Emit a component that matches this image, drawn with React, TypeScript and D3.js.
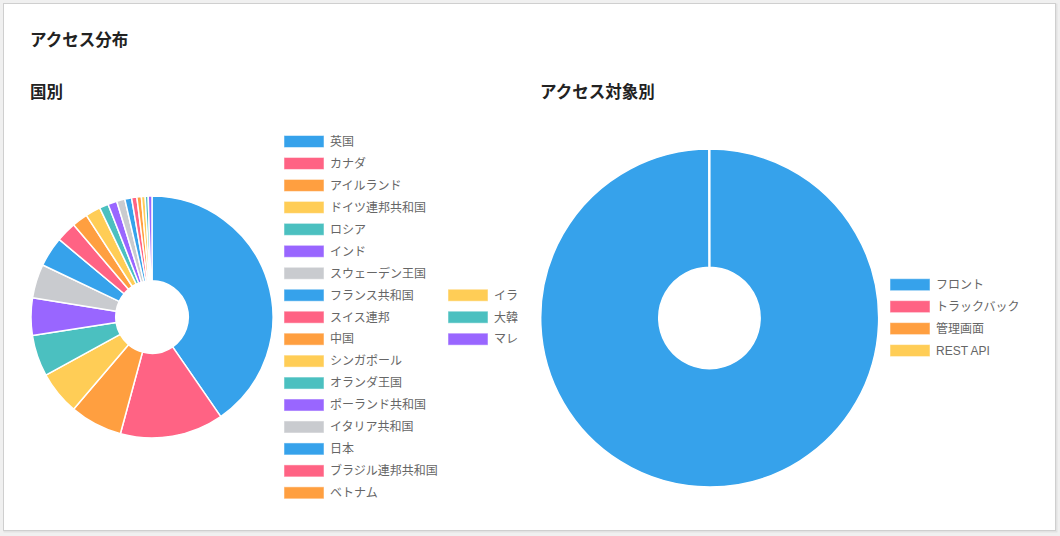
import { useMemo } from 'react';
import * as d3 from 'd3';

// Chart.js-like default palette, cycled per slice
const palette = ['#36A2EB', '#FF6384', '#FF9F40', '#FFCD56', '#4BC0C0', '#9966FF', '#C9CBCF'];

const countryLabels = [
	'英国', 'カナダ', 'アイルランド', 'ドイツ連邦共和国', 'ロシア', 'インド', 'スウェーデン王国',
	'フランス共和国', 'スイス連邦', '中国', 'シンガポール', 'オランダ王国', 'ポーランド共和国',
	'イタリア共和国', '日本', 'ブラジル連邦共和国', 'ベトナム', 'イラン', '大韓民国', 'マレーシア',
];
const countryValues = [403, 138, 70, 58, 55, 50, 45, 40, 27, 21, 20, 12, 12, 11, 9, 7, 6, 5, 4, 5];

const targetLabels = ['フロント', 'トラックバック', '管理画面', 'REST API'];
const targetValues = [2480, 0, 1, 0];

const W = 1060;
const H = 536;
const LEGEND_FONT = "'Liberation Sans', 'Noto Sans CJK JP', sans-serif";
const TITLE_FONT = "'Noto Sans CJK JP', sans-serif";

interface DonutProps {
	values: number[];
	cx: number;
	cy: number;
	radius: number;
}

function Donut({ values, cx, cy, radius }: DonutProps) {
	const arcs = useMemo(() => d3.pie<number>().sort(null).value((d) => d)(values), [values]);
	const arc = d3.arc<d3.PieArcDatum<number>>().innerRadius(radius * 0.3).outerRadius(radius);
	return (
		<g transform={`translate(${cx},${cy})`}>
			{arcs.map((a, i) => (
				<path
					key={i}
					d={arc(a) || ''}
					fill={palette[i % palette.length]}
					stroke="#fff"
					strokeWidth={1.5}
					strokeLinejoin="round"
				/>
			))}
		</g>
	);
}

interface LegendProps {
	labels: string[];
	x: number;
	y: number;
	offset?: number;
}

// one legend column; offset keeps the colour cycle in step with the slices
function LegendColumn({ labels, x, y, offset = 0 }: LegendProps) {
	return (
		<g>
			{labels.map((label, i) => {
				const cy = y + i * 21.96;
				return (
					<g key={label}>
						<rect
							x={x}
							y={cy - 6}
							width={40}
							height={12}
							fill={palette[(i + offset) % palette.length]}
							stroke="#fff"
							strokeOpacity={0.5}
							strokeWidth={1}
						/>
						<text
							x={x + 46}
							y={cy}
							dy="0.36em"
							fontSize={12}
							fill="#666"
							fontFamily={LEGEND_FONT}
						>
							{label}
						</text>
					</g>
				);
			})}
		</g>
	);
}

export default function App() {
	const firstCol = countryLabels.slice(0, 17);
	const secondCol = countryLabels.slice(17);

	return (
		<svg
			width={W}
			height={H}
			style={{ position: 'absolute', left: 0, top: 0, background: '#f0f0f0' }}
		>
			<defs>
				<clipPath id="leftClip">
					<rect x={0} y={0} width={518} height={H} />
				</clipPath>
			</defs>
			{/* card */}
			<rect x={4.5} y={4.5} width={1052} height={527} fill="none" stroke="#e2e2e2" strokeWidth={2} />
			<rect x={3.5} y={3.5} width={1052} height={527} fill="#fff" stroke="#cfcfcf" strokeWidth={1} />

			<text x={30} y={40} dy="0.36em" fontSize={16.5} fontWeight="bold" fill="#222" fontFamily={TITLE_FONT}>
				アクセス分布
			</text>
			<text x={30} y={92} dy="0.36em" fontSize={16.5} fontWeight="bold" fill="#222" fontFamily={TITLE_FONT}>
				国別
			</text>
			<text x={540} y={92} dy="0.36em" fontSize={16.5} fontWeight="bold" fill="#222" fontFamily={TITLE_FONT}>
				アクセス対象別
			</text>

			<Donut values={countryValues} cx={152} cy={317} radius={121} />
			<g clipPath="url(#leftClip)">
				<LegendColumn labels={firstCol} x={284} y={141.5} />
				<LegendColumn labels={secondCol} x={448} y={141.5 + 7 * 21.96} offset={17} />
			</g>

			<Donut values={targetValues} cx={709.5} cy={318} radius={169} />
			<LegendColumn labels={targetLabels} x={890} y={284.7} />
		</svg>
	);
}
